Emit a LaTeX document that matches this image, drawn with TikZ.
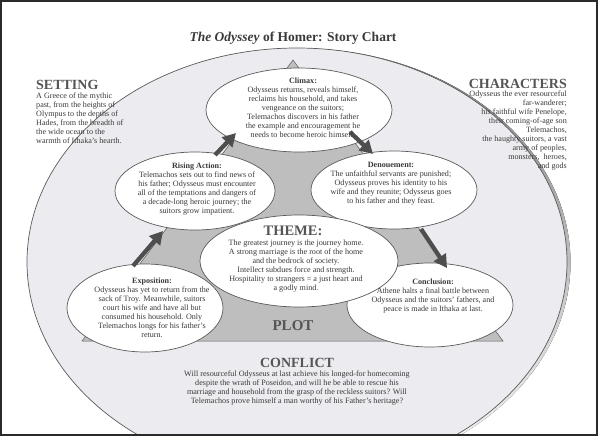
\documentclass[tikz,border=0pt]{standalone}
\usepackage{fontspec}
\setmainfont{Liberation Serif}
\usetikzlibrary{shapes.geometric,arrows.meta}
\definecolor{txt}{HTML}{3A3A3A}
\definecolor{hd}{HTML}{555555}
\definecolor{band}{HTML}{ECECF0}
\definecolor{plotc}{HTML}{BEBEBE}
\definecolor{edge}{HTML}{5A5A5A}
\definecolor{arrowc}{HTML}{4E4E4E}
\definecolor{shade}{HTML}{C8C8C8}
\definecolor{frame}{HTML}{2A2A2A}
\begin{document}
\begin{tikzpicture}[x=1pt,y=-1pt,
  bubble/.style={ellipse, draw=edge, line width=0.7pt, fill=white, inner sep=0pt},
  body/.style={font=\fontsize{8.1}{9}\selectfont, text=txt, align=center, inner sep=0pt},
  head/.style={font=\fontsize{14}{16}\selectfont\bfseries, text=hd, inner sep=0pt},
  bighead/.style={font=\fontsize{14.5}{17}\selectfont\bfseries, text=hd, inner sep=0pt},
  arr/.style={-{Triangle[width=14pt,length=13pt]}, line width=4.3pt, draw=arrowc}]
\useasboundingbox (0,0) rectangle (600,437);
% outer band
\begin{scope}
  \clip (1,1) rectangle (597,435);
  \fill[shade] (300.5,262.5) ellipse [x radius=270, y radius=214];
  \node[ellipse, draw=edge, line width=0.7pt, fill=band, minimum width=540pt, minimum height=428pt, inner sep=0pt] (outer) at (297,262) {};
\end{scope}
\draw[frame, line width=2pt] (1,1) rectangle (597,435);
% plot triangle
\coordinate (ptop) at (293,60);
\coordinate (pleft) at (82,341);
\coordinate (pright) at (503,341);
\filldraw[fill=plotc, draw=edge, line width=0.5pt] (ptop) -- (pleft) -- (pright) -- cycle;
% bubbles
\node[bubble, minimum width=186pt, minimum height=84pt] (climax) at (299,110) {};
\node[bubble, minimum width=160pt, minimum height=78pt] (rising) at (195,191) {};
\node[bubble, minimum width=166pt, minimum height=78pt] (deno) at (394,190) {};
\node[bubble, minimum width=156pt, minimum height=88pt] (expo) at (145,308) {};
\node[bubble, minimum width=166pt, minimum height=84pt] (concl) at (430,305) {};
\node[bubble, minimum width=198pt, minimum height=92pt] (theme) at (299,261) {};
% arrows
\draw[arr] ([shift={(-12,-42)}]expo.center) -- ([shift={(-32,40)}]rising.center);
\draw[arr] ([shift={(20,-36)}]rising.center) -- ([shift={(-63,23)}]climax.center);
\draw[arr] ([shift={(51,22)}]climax.center) -- ([shift={(-21,-36)}]deno.center);
\draw[arr] ([shift={(27,39)}]deno.center) -- ([shift={(17,-37)}]concl.center);
% title
\node[font=\fontsize{13.5}{16}\selectfont\bfseries, text=txt, inner sep=0pt] (title) at (293,38) {\textit{The Odyssey} of Homer: Story Chart};
% setting
\node[head, anchor=west] (sethead) at (36,85) {SETTING};
\node[body, align=left, anchor=north west] (setbody) at (36,93) {A Greece of the mythic\\past, from the heights of\\Olympus to the depths of\\Hades, from the breadth of\\the wide ocean to the\\warmth of Ithaka’s hearth.};
% characters
\node[head, anchor=east] (charhead) at (567,84) {CHARACTERS};
\node[body, align=right, anchor=north east] (charbody) at (567,91) {Odysseus the ever resourceful\\far-wanderer;\\his faithful wife Penelope,\\their coming-of-age son\\Telemachos,\\the haughty suitors, a vast\\army of peoples,\\monsters, \ heroes,\\and gods};
% bubble texts
\node[body] (climaxtext) at (303,108) {\textbf{Climax:}\\Odysseus returns, reveals himself,\\reclaims his household, and takes\\vengeance on the suitors;\\Telemachos discovers in his father\\the example and encouragement he\\needs to become heroic himself.};
\node[body] (risingtext) at (197,189) {\textbf{Rising Action:}\\Telemachos sets out to find news of\\his father; Odysseus must encounter\\all of the temptations and dangers of\\a decade-long heroic journey; the\\suitors grow impatient.};
\node[body] (denotext) at (391,184) {\textbf{Denouement:}\\The unfaithful servants are punished;\\Odysseus proves his identity to his\\wife and they reunite; Odysseus goes\\to his father and they feast.};
\node[bighead] (themehead) at (293,231) {THEME:};
\node[body] (themetext) at (296,266) {The greatest journey is the journey home.\\A strong marriage is the root of the home\\and the bedrock of society.\\Intellect subdues force and strength.\\Hospitality to strangers = a just heart and\\a godly mind.};
\node[body] (expotext) at (152,308) {\textbf{Exposition:}\\Odysseus has yet to return from the\\sack of Troy. Meanwhile, suitors\\court his wife and have all but\\consumed his household. Only\\Telemachos longs for his father’s\\return.};
\node[body] (concltext) at (433,296) {\textbf{Conclusion:}\\Athene halts a final battle between\\Odysseus and the suitors’ fathers, and\\peace is made in Ithaka at last.};
\node[bighead, font=\fontsize{15}{18}\selectfont\bfseries] (plotlabel) at (293,326) {PLOT};
% conflict
\node[head] (confhead) at (297,363) {CONFLICT};
\node[body] (conftext) at (297,388) {Will resourceful Odysseus at last achieve his longed-for homecoming\\despite the wrath of Poseidon, and will he be able to rescue his\\marriage and household from the grasp of the reckless suitors? Will\\Telemachos prove himself a man worthy of his Father’s heritage?};
\end{tikzpicture}
\end{document}
